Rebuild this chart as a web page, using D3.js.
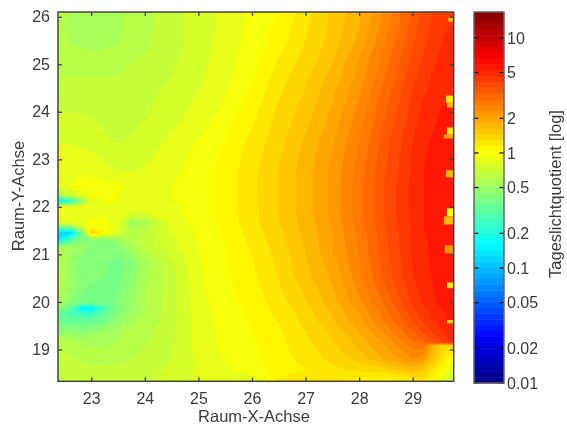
<!DOCTYPE html>
<html><head><meta charset="utf-8">
<script src="https://cdn.jsdelivr.net/npm/d3@7"></script>
<style>html,body{margin:0;padding:0;background:#fff}svg{display:block;filter:blur(.45px)}text{font-family:"Liberation Sans",Arial,sans-serif;fill:#3a3a3a}</style>
</head><body><div id="chart"></div>
<script>
const roomX=[22.38,22.6,22.8,23,23.25,23.5,23.75,24,24.5,25,25.5,26,26.5,27,27.5,28,28.5,29,29.2,29.4,29.55,29.67,29.765];
const roomY=[26.1,25.77,25.43,25.09,24.76,24.42,24.08,23.75,23.41,23.07,22.73,22.44,22.25,22.12,22,21.85,21.68,21.58,21.45,21.3,21.13,20.84,20.54,20.25,19.98,19.87,19.76,19.62,19.36,19.15,19.09,18.82,18.56,18.33];
const quotient=[
[.6,.58,.57,.56,.56,.57,.6,.63,.7,.78,.85,.95,1.03,1.25,1.5,1.8,2.4,3.4,3.8,4.2,4.4,4.6,4.6],
[.59,.57,.56,.55,.55,.57,.6,.63,.7,.77,.85,.96,1.07,1.28,1.52,1.85,2.5,3.5,3.95,4.3,4.5,4.7,4.7],
[.6,.58,.56,.55,.55,.58,.61,.64,.7,.78,.86,.97,1.1,1.32,1.55,1.92,2.65,3.65,4.05,4.45,4.7,4.8,4.8],
[.65,.65,.64,.64,.64,.64,.65,.66,.71,.79,.87,.99,1.17,1.36,1.62,2.1,2.8,3.8,4.25,4.6,4.85,4.95,4.95],
[.65,.65,.65,.65,.65,.65,.67,.68,.73,.8,.89,1.01,1.23,1.44,1.72,2.15,2.95,4,4.45,4.75,5,5.1,5.1],
[.68,.68,.68,.68,.68,.68,.69,.71,.75,.82,.91,1.05,1.28,1.48,1.8,2.28,3.1,4.2,4.6,4.9,5.1,5.2,5.2],
[.72,.72,.72,.72,.71,.71,.71,.72,.77,.85,.95,1.1,1.33,1.54,1.88,2.4,3.25,4.35,4.8,5.05,5.3,5.3,5.3],
[.76,.76,.76,.74,.72,.72,.72,.74,.8,.88,.99,1.15,1.37,1.6,1.95,2.5,3.4,4.5,4.95,5.2,5.4,5.5,5.5],
[.8,.8,.78,.76,.74,.72,.74,.77,.84,.93,1.03,1.2,1.4,1.68,2.02,2.6,3.55,4.65,5.1,5.35,5.45,5.5,5.5],
[.9,.9,.88,.85,.8,.78,.78,.8,.87,.96,1.06,1.24,1.44,1.72,2.1,2.68,3.63,4.75,5.2,5.45,5.55,5.6,5.6],
[.88,.9,.92,.88,.84,.82,.82,.83,.9,.97,1.08,1.26,1.48,1.75,2.15,2.75,3.7,4.8,5.25,5.5,5.6,5.7,5.7],
[.85,.92,.98,1,.98,.95,.88,.85,.92,.97,1.08,1.27,1.48,1.75,2.15,2.8,3.8,4.85,5.25,5.5,5.65,5.7,5.7],
[.55,.7,.85,.95,.95,.92,.88,.85,.92,.97,1.08,1.27,1.48,1.75,2.15,2.8,3.8,4.85,5.25,5.5,5.65,5.7,5.7],
[.15,.2,.4,.8,.95,.93,.88,.85,.92,.97,1.08,1.27,1.48,1.75,2.15,2.8,3.8,4.85,5.25,5.5,5.65,5.7,5.7],
[1,.85,.85,.85,.85,.85,.85,.85,.9,.97,1.08,1.27,1.48,1.75,2.15,2.8,3.8,4.85,5.25,5.5,5.65,5.7,5.7],
[.95,.9,.88,.88,.9,.88,.8,.8,.9,.97,1.08,1.26,1.48,1.75,2.15,2.8,3.8,4.85,5.25,5.5,5.65,5.7,5.7],
[.85,.85,.9,.96,.98,.85,.5,.55,.88,.96,1.07,1.25,1.46,1.73,2.12,2.78,3.75,4.85,5.25,5.5,5.65,5.7,5.7],
[.4,.4,.7,1,1,.85,.55,.6,.85,.95,1.06,1.24,1.44,1.72,2.1,2.75,3.7,4.8,5.25,5.5,5.65,5.7,5.7],
[.12,.11,.3,1.45,1.05,.8,.6,.65,.82,.95,1.05,1.22,1.42,1.7,2.08,2.7,3.65,4.8,5.2,5.45,5.6,5.7,5.7],
[.15,.3,.42,.42,.42,.5,.6,.68,.8,.94,1.04,1.2,1.4,1.68,2.06,2.68,3.62,4.8,5.15,5.4,5.6,5.7,5.7],
[.6,.55,.5,.42,.42,.45,.55,.65,.78,.93,1.03,1.18,1.38,1.66,2.05,2.65,3.6,4.75,5.15,5.4,5.6,5.7,5.7],
[.6,.5,.44,.43,.42,.39,.43,.55,.72,.91,1.02,1.15,1.35,1.62,1.98,2.58,3.55,4.7,5.1,5.4,5.55,5.65,5.65],
[.62,.52,.45,.44,.41,.39,.45,.56,.7,.9,1.01,1.13,1.32,1.58,1.9,2.5,3.45,4.65,5.05,5.35,5.5,5.6,5.6],
[.62,.5,.43,.39,.38,.41,.49,.58,.7,.89,1,1.1,1.28,1.5,1.82,2.38,3.25,4.45,4.9,5.25,5.45,5.5,5.5],
[.55,.44,.39,.37,.37,.43,.5,.58,.7,.88,.99,1.08,1.24,1.45,1.75,2.25,3.05,4.25,4.75,5.2,5.4,5.45,5.45],
[.44,.34,.15,.14,.28,.4,.5,.58,.7,.88,.98,1.07,1.22,1.4,1.7,2.17,2.9,4.1,4.6,5.05,5.3,5.4,5.4],
[.35,.28,.24,.24,.33,.42,.52,.58,.7,.87,.98,1.06,1.2,1.38,1.66,2.08,2.8,3.9,4.4,4.85,5.2,5.3,5.3],
[.36,.33,.33,.33,.38,.47,.55,.6,.7,.87,.97,1.05,1.18,1.36,1.62,2,2.7,3.75,4.3,4.8,5.1,5.3,5.3],
[.5,.47,.47,.48,.52,.56,.6,.63,.71,.86,.96,1.03,1.13,1.3,1.5,1.85,2.4,3.25,3.75,4.25,4.7,5,5.1],
[.62,.6,.57,.56,.56,.58,.62,.64,.72,.86,.95,1.02,1.12,1.27,1.45,1.72,2.15,2.85,3.2,3.6,4.1,4.5,4.7],
[.64,.6,.58,.57,.57,.59,.62,.65,.72,.86,.95,1.02,1.12,1.26,1.43,1.7,2.1,2.75,2.8,1.7,1.4,1.35,1.3],
[.68,.66,.64,.63,.62,.63,.65,.67,.73,.84,.93,1,1.1,1.22,1.36,1.55,1.9,2.35,2.2,1.55,1.28,1.1,.95],
[.7,.68,.67,.67,.67,.67,.68,.7,.75,.83,.9,.98,1.07,1.16,1.27,1.33,1.38,1.65,1.45,1.22,1.03,.9,.75],
[.72,.7,.68,.68,.69,.7,.71,.72,.76,.85,.9,.85,1.2,1.27,1.24,1.08,1.06,1.1,1.28,1,.85,.75,.68]
];
// small notches on the window side of the room
const notchTop=[25.98,24.34,24.19,23.67,23.52,22.77,21.97,21.8,21.19,20.41,19.62];
const notchBottom=[25.9,24.19,24.09,23.52,23.44,22.62,21.8,21.63,21.02,20.29,19.55];
const notchFrom=[29.66,29.62,29.64,29.64,29.58,29.62,29.64,29.58,29.6,29.64,29.64];
const notchValue=[1.6,1.2,1.8,1.2,2,1.8,1,1.7,2.2,1.2,1.4];
const xTicks=[23,24,25,26,27,28,29];
const yTicks=[19,20,21,22,23,24,25,26];
const barTicks=[.01,.02,.05,.1,.2,.5,1,2,5,10];
const barMax=16.8, levels=64;
const xLabel="Raum-X-Achse", yLabel="Raum-Y-Achse", barLabel="Tageslichtquotient [log]";

const W=567,H=427;
const x=d3.scaleLinear().domain([22.38,29.765]).range([58,453.7]);
const y=d3.scaleLinear().domain([18.33,26.1]).range([381.3,12]);
const barY=d3.scaleLog().domain([.01,barMax]).range([383,12]);
const frac=d3.scaleLog().domain([.01,barMax]).range([0,1]);
const jet=d3.scaleLinear().domain([0,.125,.375,.625,.875,1])
  .range(["#000080","#0000ff","#00ffff","#ffff00","#ff0000","#800000"]);
const levelColor=i=>jet((i+.5)/levels);
const valueColor=v=>levelColor(Math.max(0,Math.min(levels-1,Math.floor(frac(v)*levels))));

const svg=d3.select("#chart").append("svg").attr("width",W).attr("height",H);
svg.append("defs").append("clipPath").attr("id","c").append("rect")
  .attr("x",58).attr("y",12).attr("width",395.7).attr("height",369.3);

// field
const n=roomX.length,m=roomY.length;
const gx=d3.scaleLinear().domain([0,...roomX.map((_,i)=>i+.5),n]).range([x(roomX[0]),...roomX.map(v=>x(v)),x(roomX[n-1])]);
const gy=d3.scaleLinear().domain([0,...roomY.map((_,i)=>i+.5),m]).range([y(roomY[0]),...roomY.map(v=>y(v)),y(roomY[m-1])]);
const flat=quotient.flat().map(v=>Math.log10(v));
const logMin=-2,logSpan=Math.log10(barMax)+2;
const thresholds=d3.range(levels).map(i=>logMin+logSpan*i/levels);
const contours=d3.contours().size([n,m]).thresholds(thresholds)(flat);
const path=d3.geoPath(d3.geoTransform({point(a,b){this.stream.point(gx(a),gy(b));}}));
const plot=svg.append("g").attr("clip-path","url(#c)");
plot.selectAll("path").data(contours).join("path")
  .attr("d",path).attr("fill",(d,i)=>levelColor(i)).attr("stroke",(d,i)=>levelColor(i)).attr("stroke-width",.4);
plot.selectAll("rect").data(notchValue).join("rect")
  .attr("x",(d,i)=>x(notchFrom[i])).attr("y",(d,i)=>y(notchTop[i]))
  .attr("width",(d,i)=>x(29.765)-x(notchFrom[i])).attr("height",(d,i)=>y(notchBottom[i])-y(notchTop[i]))
  .attr("fill",d=>valueColor(d));

const ink="#444";
function styleAxis(g){g.selectAll("path").remove();g.selectAll("line").attr("stroke",ink).attr("stroke-width",1.3);
  g.selectAll("text").attr("font-size",16);}
svg.append("g").attr("transform","translate(0,381.3)").call(d3.axisBottom(x).tickValues(xTicks).tickSize(-4).tickPadding(11).tickFormat(d3.format("d"))).call(styleAxis);
svg.append("g").attr("transform","translate(0,12)").call(d3.axisTop(x).tickValues(xTicks).tickSize(-4).tickFormat("")).call(styleAxis);
svg.append("g").attr("transform","translate(58,0)").call(d3.axisLeft(y).tickValues(yTicks).tickSize(-4).tickPadding(8).tickFormat(d3.format("d"))).call(styleAxis);
svg.append("g").attr("transform","translate(453.7,0)").call(d3.axisRight(y).tickValues(yTicks).tickSize(-4).tickFormat("")).call(styleAxis);
svg.append("rect").attr("x",58).attr("y",12).attr("width",395.7).attr("height",369.3).attr("fill","none").attr("stroke",ink).attr("stroke-width",1.5);

// colour bar
const barL=474,barR=504;
svg.append("g").selectAll("rect").data(d3.range(levels)).join("rect")
  .attr("x",barL).attr("width",barR-barL)
  .attr("y",i=>383-371*(i+1)/levels).attr("height",371/levels+.5).attr("fill",levelColor);
svg.append("g").attr("transform",`translate(${barR},0)`).call(d3.axisRight(barY).tickValues(barTicks).tickSize(0).tickPadding(3).tickFormat(d=>String(d))).call(styleAxis);
svg.append("g").selectAll("line").data(barTicks).join("line")
  .attr("x1",barL).attr("x2",barL+4.5).attr("y1",d=>barY(d)).attr("y2",d=>barY(d)).attr("stroke","#111").attr("stroke-width",1.3);
svg.append("g").selectAll("line").data(barTicks).join("line")
  .attr("x1",barR-4.5).attr("x2",barR).attr("y1",d=>barY(d)).attr("y2",d=>barY(d)).attr("stroke","#111").attr("stroke-width",1.3);
svg.append("rect").attr("x",barL).attr("y",12).attr("width",barR-barL).attr("height",371).attr("fill","none").attr("stroke","#666").attr("stroke-width",1.5);

svg.append("text").attr("x",254).attr("y",422).attr("text-anchor","middle").attr("font-size",16.5).text(xLabel);
svg.append("text").attr("transform","translate(24,196) rotate(-90)").attr("text-anchor","middle").attr("font-size",16.5).text(yLabel);
svg.append("text").attr("transform","translate(561,194) rotate(-90)").attr("text-anchor","middle").attr("font-size",16.5).text(barLabel);
</script></body></html>
